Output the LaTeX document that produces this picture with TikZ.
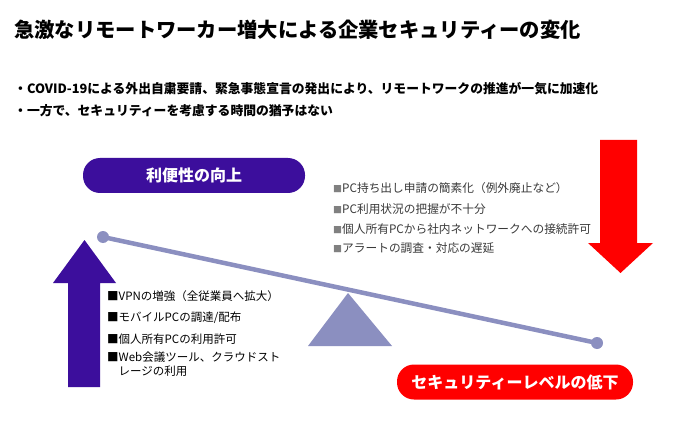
\documentclass[tikz,border=0pt]{standalone}
\usepackage{fontspec}
\setmainfont{Noto Sans CJK JP}
\definecolor{deeppurple}{HTML}{3C0E9C}
\definecolor{alertred}{HTML}{FF0000}
\definecolor{beamblue}{HTML}{8B8FC0}
\definecolor{listgray}{HTML}{3A3A3A}
\begin{document}
\begin{tikzpicture}[x=1pt,y=-1pt,
  titletext/.style={anchor=west,inner sep=0pt,font=\fontsize{20.3}{24}\selectfont\bfseries},
  leadtext/.style={anchor=west,inner sep=0pt,font=\fontsize{12.8}{15}\selectfont\bfseries},
  pillbox/.style={minimum height=35pt,rounded corners=17pt,text=white,inner sep=0pt,font=\fontsize{16}{19}\selectfont\bfseries},
  leftitem/.style={anchor=west,inner sep=0pt,align=left,font=\fontsize{11.5}{14}\selectfont},
  rightitem/.style={anchor=west,inner sep=0pt,text=listgray,font=\fontsize{11.7}{14}\selectfont},
  pivotdot/.style={circle,fill=beamblue,minimum size=12pt,inner sep=0pt}
]
\fill[white] (0,0) rectangle (700,438);
\useasboundingbox (0,0) rectangle (700,438);

\node[titletext] (title) at (14,30) {急激なリモートワーカー増大による企業セキュリティーの変化};
\node[leadtext] (lead1) at (14,89) {・COVID-19による外出自粛要請、緊急事態宣言の発出により、リモートワークの推進が一気に加速化};
\node[leadtext] (lead2) at (14,111) {・一方で、セキュリティーを考慮する時間の猶予はない};

\node[pillbox,fill=deeppurple,minimum width=222pt] (conv) at (194,175.5) {利便性の向上};
\node[pillbox,fill=alertred,minimum width=236pt] (sec) at (515,382) {セキュリティーレベルの低下};

% up arrow (purple)
\fill[deeppurple] (68,387) -- (68,283) -- (53,283) -- (84.5,240) -- (116,283) -- (100,283) -- (100,387) -- cycle;
% down arrow (red)
\fill[alertred] (600,140) -- (637,140) -- (637,243) -- (653,243) -- (620.5,273) -- (588,243) -- (600,243) -- cycle;

% seesaw
\fill[beamblue] (348,293) -- (392,346) -- (308,346) -- cycle;
\node[pivotdot] (lend) at (103,237) {};
\node[pivotdot] (rend) at (597,343) {};
\draw[beamblue,line width=4.5pt] (lend.center) -- (rend.center);

% left list
\node[leftitem] (l1) at (107,296) {■VPNの増強（全従業員へ拡大）};
\node[leftitem] (l2) at (107,318) {■モバイルPCの調達/配布};
\node[leftitem] (l3) at (107,339) {■個人所有PCの利用許可};
\node[leftitem,anchor=north west] (l4) at (107,352) {■Web会議ツール、クラウドスト\\\hspace*{11.5pt}レージの利用};

% right list
\node[rightitem] (r1) at (333,188) {{\color{gray}\fontsize{9}{11}\selectfont ■}PC持ち出し申請の簡素化（例外廃止など）};
\node[rightitem] (r2) at (333,209) {{\color{gray}\fontsize{9}{11}\selectfont ■}PC利用状況の把握が不十分};
\node[rightitem] (r3) at (333,229) {{\color{gray}\fontsize{9}{11}\selectfont ■}個人所有PCから社内ネットワークへの接続許可};
\node[rightitem] (r4) at (333,248) {{\color{gray}\fontsize{9}{11}\selectfont ■}アラートの調査・対応の遅延};
\end{tikzpicture}
\end{document}
